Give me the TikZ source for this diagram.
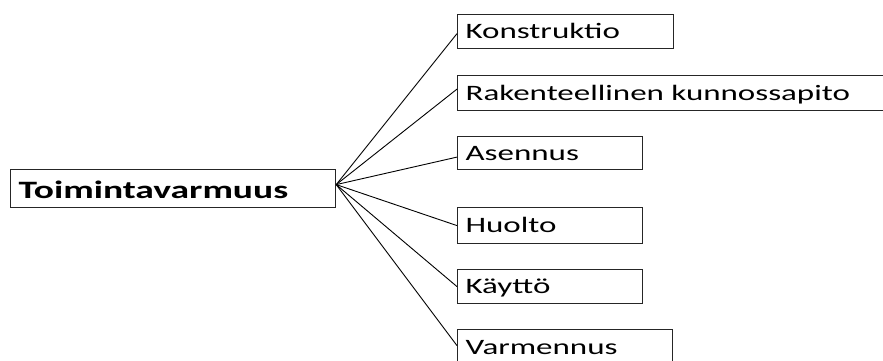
\documentclass[tikz,border=0pt]{standalone}
\usepackage{fontspec}
\setmainfont{Carlito}[FakeStretch=1.5]
\begin{document}
\begin{tikzpicture}[x=1pt,y=1pt,
  box/.style={draw=black!85, line width=1.2pt, rectangle, inner xsep=8pt, inner ysep=0pt,
    anchor=north west, text height=15pt, text depth=1pt, align=left,
    font=\fontsize{22}{26}\selectfont},
  link/.style={draw=black, line width=0.9pt}]
\clip (0,0) rectangle (883,-361);
\useasboundingbox (0,0) rectangle (883,-361);
\fill[white] (0,0) rectangle (883,-361);
\node[box, text width=309pt, minimum height=38pt, text height=20pt, text depth=0pt,
  font=\fontsize{25}{28}\selectfont\bfseries] (m) at (10,-169) {Toimintavarmuus};
\node[box, text width=200pt, minimum height=34pt] (k) at (457,-14) {Konstruktio};
\node[box, text width=424pt, minimum height=35pt] (r) at (457,-75) {Rakenteellinen kunnossapito};
\node[box, text width=169pt, minimum height=33pt] (a) at (457,-136) {Asennus};
\node[box, text width=169pt, minimum height=36pt] (h) at (457,-207) {Huolto};
\node[box, text width=169pt, minimum height=34pt] (ky) at (457,-269) {Käyttö};
\node[box, text width=199pt, minimum height=36pt] (v) at (457,-329) {Varmennus};
\coordinate (hub) at ([yshift=4pt]m.east);
\draw[link] (hub) -- ([yshift=-2pt]k.west);
\draw[link] (hub) -- ([yshift=4pt]r.west);
\draw[link] (hub) -- ([yshift=-4pt]a.west);
\draw[link] (hub) -- (h.west);
\draw[link] (hub) -- (ky.west);
\draw[link] (hub) -- ([yshift=2pt]v.west);
\end{tikzpicture}
\end{document}
